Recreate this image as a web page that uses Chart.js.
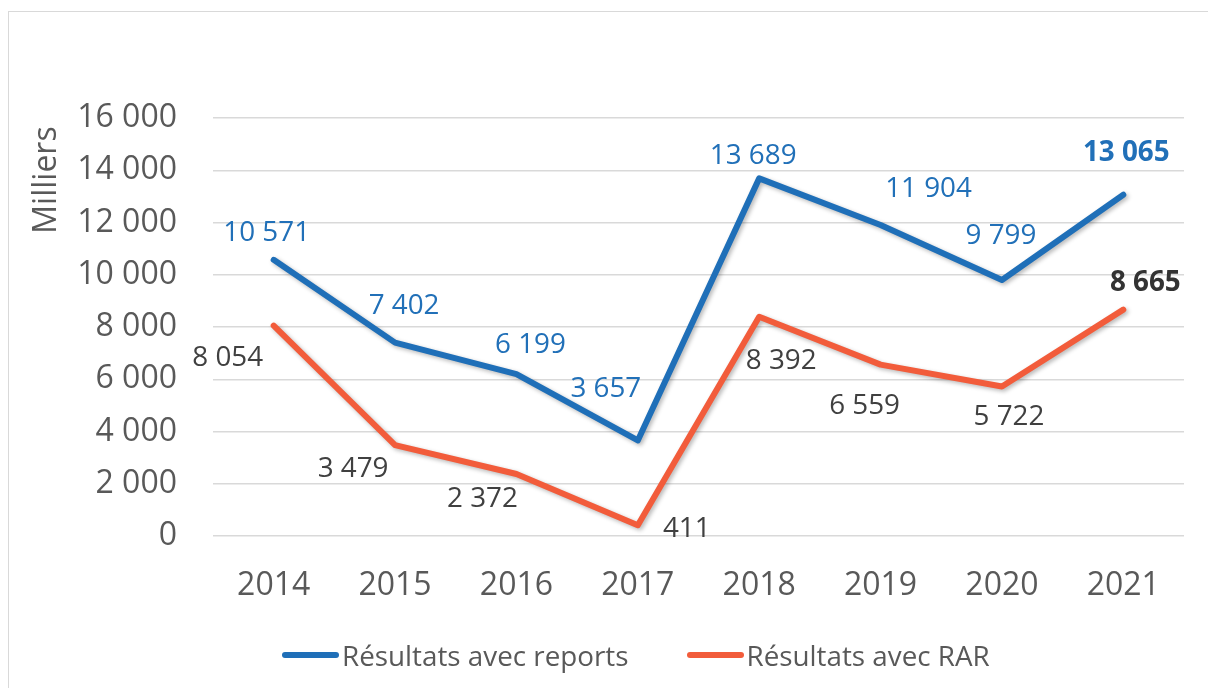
<!DOCTYPE html>
<html>
<head>
<meta charset="utf-8">
<script src="https://cdn.jsdelivr.net/npm/chart.js@4"></script>
<style>
  html, body { margin: 0; padding: 0; background: #fff; overflow: hidden; }
  #wrap { position: relative; width: 1208px; height: 688px; }
  #frame { position: absolute; left: 8px; top: 11px; width: 1300px; height: 800px; border: 1px solid #d9d9d9; }
  canvas { position: absolute; left: 0; top: 0; }
  #legend { position: absolute; left: 282px; top: 636px; display: flex; align-items: center;
            font-family: "Open Sans", sans-serif; font-size: 27.8px; color: #595959; white-space: nowrap; }
  .sw { display: inline-block; width: 57px; height: 6px; border-radius: 3px; margin-right: 3px; }
  .item { display: flex; align-items: center; margin-right: 58px; }
</style>
</head>
<body>
<div id="wrap">
  <div id="frame"></div>
  <canvas id="chart" width="1208" height="688"></canvas>
  <div id="legend"></div>
</div>
<script>
document.addEventListener("DOMContentLoaded", () => {
    // données (en milliers)
    const years = ['2014', '2015', '2016', '2017', '2018', '2019', '2020', '2021'];
    const avecReports = [10571, 7402, 6199, 3657, 13689, 11904, 9799, 13065];
    const avecRAR = [8054, 3479, 2372, 411, 8392, 6559, 5722, 8665];
    const seriesNames = ['Résultats avec reports', 'Résultats avec RAR'];
    const yMin = 0, yMax = 16000, yStep = 2000;

    const BLUE = '#1f6fb8';
    const ORANGE = '#f25c3b';

    // placement des étiquettes (décalage par rapport au point)
    const labelOffsets = [
        [[-7, -28], [9, -38], [14, -30], [-32, -52], [-6, -23], [48, -37], [-1, -45], [3, -43]],
        [[-46, 31], [-42, 23], [-34, 24], [49, 3], [22, 43], [-16, 40], [7, 30], [22, -28]]
    ];
    const labelColors = ['#2170b8', '#404040'];

    const fmt = v => String(v).replace(/\B(?=(\d{3})+(?!\d))/g, ' ');

    Chart.defaults.font.family = '"Open Sans", sans-serif';
    Chart.defaults.color = '#595959';

    const shadowPlugin = {
        id: 'lineShadow',
        beforeDatasetDraw(chart) {
            const ctx = chart.ctx;
            ctx.save();
            ctx.shadowColor = 'rgba(0,0,0,0.28)';
            ctx.shadowBlur = 4;
            ctx.shadowOffsetX = 2;
            ctx.shadowOffsetY = 2;
        },
        afterDatasetDraw(chart) {
            chart.ctx.restore();
        }
    };

    const labelsPlugin = {
        id: 'valueLabels',
        afterDatasetsDraw(chart) {
            const ctx = chart.ctx;
            chart.data.datasets.forEach((ds, di) => {
                const meta = chart.getDatasetMeta(di);
                meta.data.forEach((pt, i) => {
                    const last = i === ds.data.length - 1;
                    const off = labelOffsets[di][i];
                    ctx.save();
                    ctx.font = (last ? 'bold ' : '') + '27.8px "Open Sans", sans-serif';
                    ctx.fillStyle = last && di === 1 ? '#333333' : labelColors[di];
                    ctx.textAlign = 'center';
                    ctx.textBaseline = 'middle';
                    ctx.fillText(fmt(ds.data[i]), pt.x + off[0], pt.y + off[1] + 1);
                    ctx.restore();
                });
            });
            // unité d'affichage
            ctx.save();
            ctx.translate(47, 180);
            ctx.rotate(-Math.PI / 2);
            ctx.font = '32px "Open Sans", sans-serif';
            ctx.fillStyle = '#595959';
            ctx.textAlign = 'center';
            ctx.textBaseline = 'middle';
            ctx.fillText('Milliers', 0, 0);
            ctx.restore();
        }
    };

    const ctx = document.getElementById('chart').getContext('2d');
    new Chart(ctx, {
        type: 'line',
        data: {
            labels: years,
            datasets: [{
                label: seriesNames[0],
                data: avecReports,
                borderColor: BLUE,
                backgroundColor: BLUE,
                borderWidth: 6,
                borderCapStyle: 'round',
                borderJoinStyle: 'round',
                pointRadius: 0,
                tension: 0
            }, {
                label: seriesNames[1],
                data: avecRAR,
                borderColor: ORANGE,
                backgroundColor: ORANGE,
                borderWidth: 6,
                borderCapStyle: 'round',
                borderJoinStyle: 'round',
                pointRadius: 0,
                tension: 0
            }]
        },
        options: {
            responsive: false,
            animation: false,
            layout: { padding: { top: 118, right: 24, left: 0, bottom: 0 } },
            scales: {
                x: {
                    offset: true,
                    grid: { display: false, drawTicks: false },
                    border: { display: false },
                    ticks: { font: { size: 32 }, color: '#595959', padding: 31 },
                    afterFit(scale) { scale.height = 152; }
                },
                y: {
                    min: yMin,
                    max: yMax,
                    ticks: { stepSize: yStep, font: { size: 32 }, color: '#595959', padding: 36,
                             callback: v => fmt(v) },
                    grid: { color: '#d9d9d9', lineWidth: 1.5, drawTicks: false },
                    border: { display: false },
                    afterFit(scale) { scale.width = 213; }
                }
            },
            plugins: {
                legend: { display: false },
                tooltip: { enabled: false }
            }
        },
        plugins: [shadowPlugin, labelsPlugin]
    });

    // légende
    const legend = document.getElementById('legend');
    [BLUE, ORANGE].forEach((c, i) => {
        const item = document.createElement('span');
        item.className = 'item';
        item.innerHTML = '<span class="sw" style="background:' + c + '"></span>' + seriesNames[i];
        legend.appendChild(item);
    });
});
</script>
</body>
</html>
